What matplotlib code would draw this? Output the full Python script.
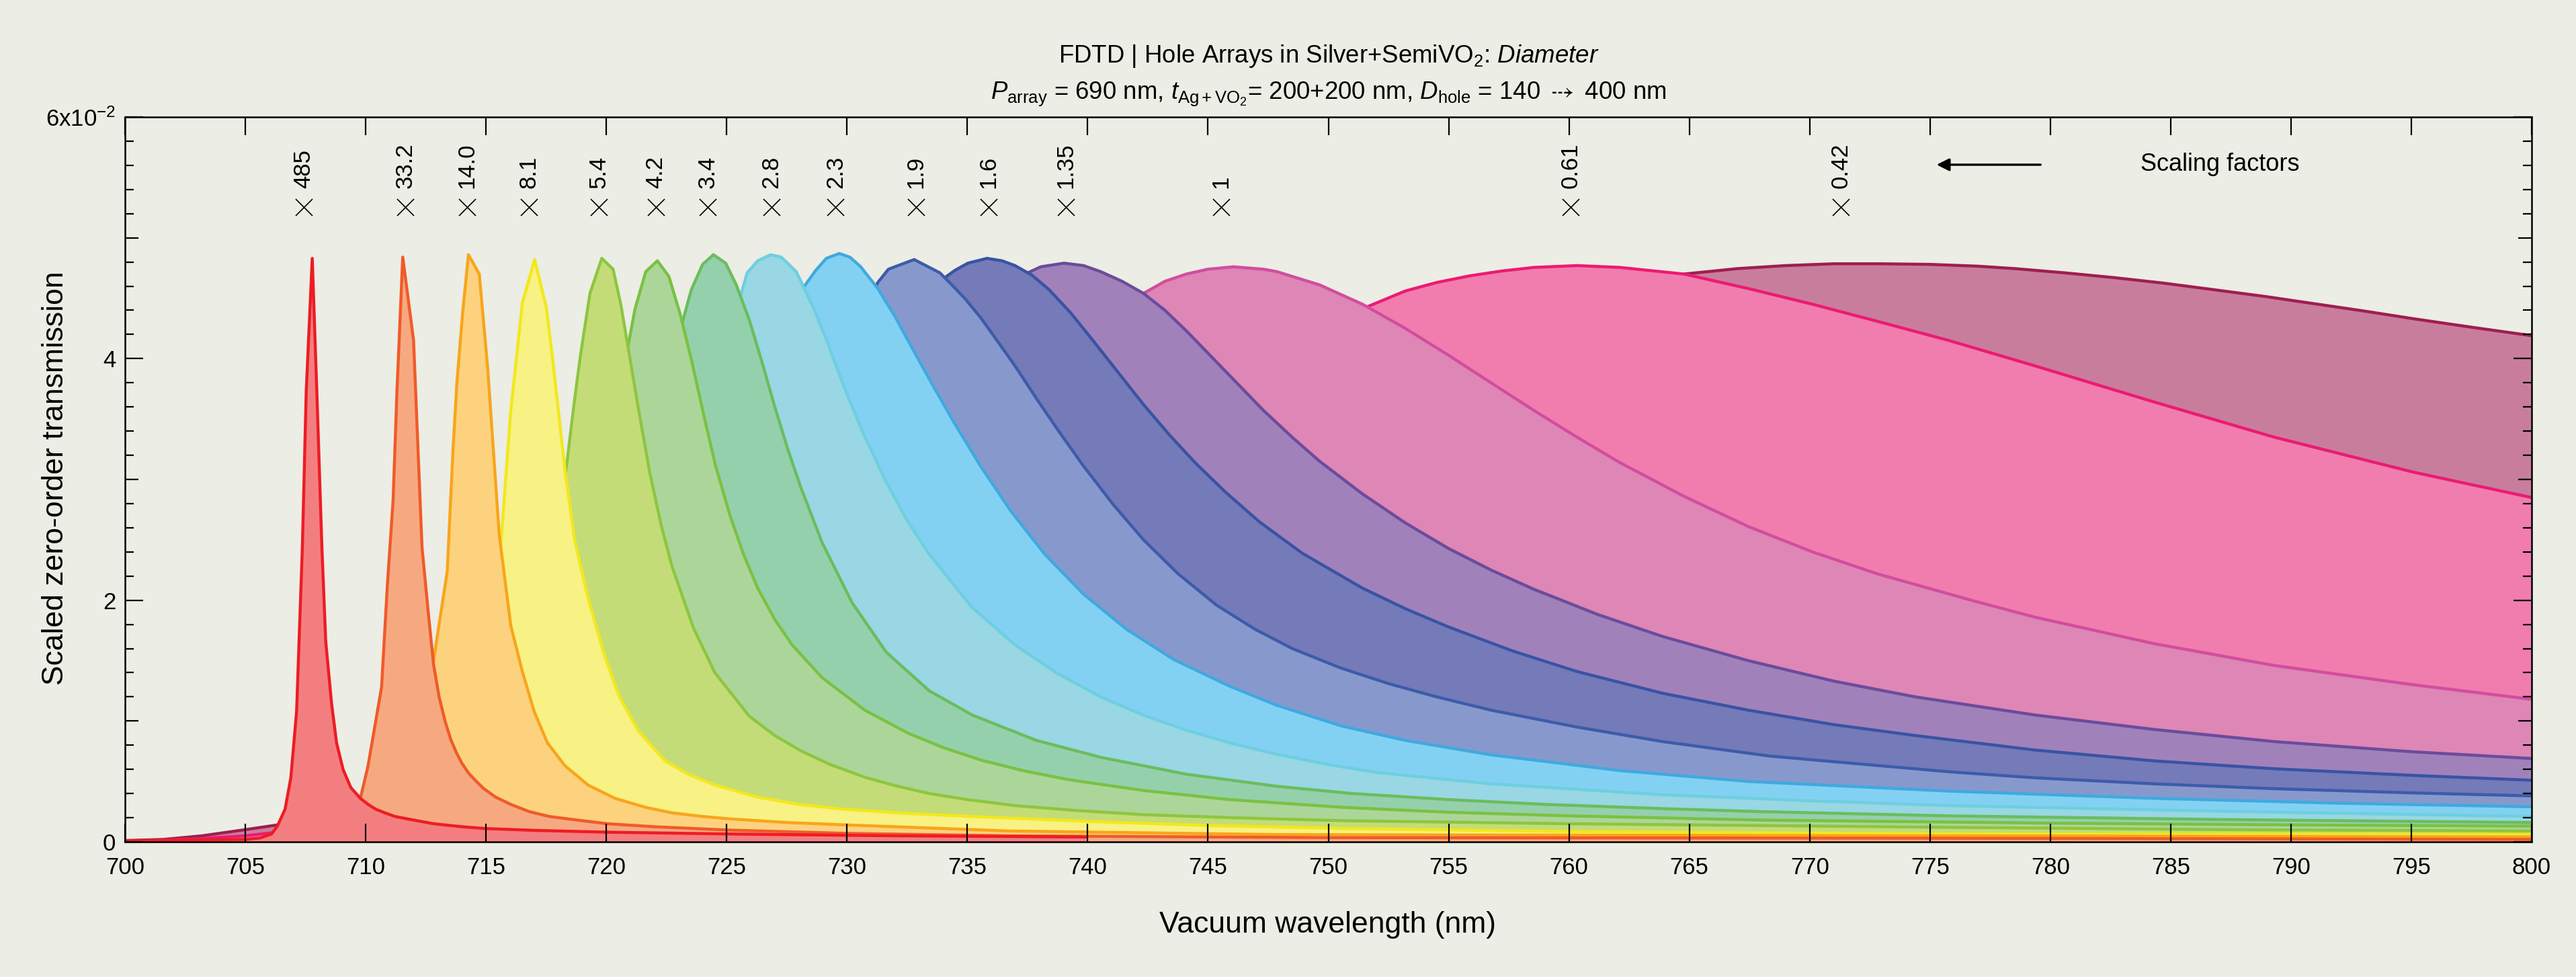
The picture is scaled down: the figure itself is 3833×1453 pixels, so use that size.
import matplotlib
matplotlib.use("Agg")
import matplotlib.pyplot as plt
from matplotlib.ticker import FixedLocator, FixedFormatter, MultipleLocator

plt.rcParams['font.family'] = ['Liberation Sans', 'DejaVu Sans']
plt.rcParams['mathtext.fontset'] = 'custom'
plt.rcParams['mathtext.rm'] = 'Liberation Sans'
plt.rcParams['mathtext.it'] = 'Liberation Sans:italic'
plt.rcParams['mathtext.bf'] = 'Liberation Sans:bold'
plt.rcParams['mathtext.fallback'] = 'stixsans'

BG = '#ECEDE4'

# ---------------------------------------------------------------------------
# Spectra: vacuum wavelength (nm) and scaled zero-order transmission (x1e-2),
# one pair per hole diameter (smallest hole first)
# ---------------------------------------------------------------------------
wl_01 = [700.0, 704.97, 705.61, 706.09, 706.33, 706.65, 706.89, 707.13, 707.37, 707.53,
         707.78, 707.97, 708.18, 708.34, 708.58, 708.79, 709.06, 709.38, 709.78, 710.1,
         710.42, 710.8, 711.22, 712.0, 712.82, 714.0, 714.99, 717.0, 720.04, 725.14,
         732.0, 739.9]
tr_01 = [0.01, 0.02, 0.032, 0.065, 0.13, 0.27, 0.53, 1.08, 2.44, 3.73,
         4.83, 3.73, 2.44, 1.66, 1.15, 0.82, 0.60, 0.45, 0.36, 0.31,
         0.27, 0.24, 0.21, 0.18, 0.15, 0.125, 0.11, 0.095, 0.08, 0.065,
         0.05, 0.04]

wl_02 = [700.0, 705.0, 707.0, 708.5, 709.3, 709.78, 710.10, 710.66, 710.90, 711.14,
         711.30, 711.54, 711.99, 712.34, 712.6, 712.82, 713.05, 713.31, 713.55, 713.79,
         714.0, 714.27, 714.6, 714.91, 715.4, 716.03, 716.8, 717.63, 718.8, 720.04,
         722.0, 725.14, 730.0, 736.7, 750.0, 775.0, 800.0]
tr_02 = [0.003, 0.012, 0.05, 0.16, 0.26, 0.36, 0.63, 1.28, 2.12, 2.83,
         3.73, 4.84, 4.15, 2.44, 1.90, 1.47, 1.20, 0.99, 0.84, 0.73,
         0.65, 0.57, 0.50, 0.44, 0.37, 0.31, 0.25, 0.21, 0.18, 0.15,
         0.125, 0.097, 0.07, 0.05, 0.035, 0.03, 0.02]

wl_03 = [700.0, 706.0, 709.0, 711.0, 712.0, 712.82, 713.39, 713.63, 713.79, 714.03,
         714.27, 714.72, 715.07, 715.55, 716.03, 716.51, 717.0, 717.55, 718.28, 719.24,
         720.36, 721.64, 722.73, 724.0, 725.14, 727.5, 730.0, 736.7, 747.9, 775.8,
         800.0]
tr_03 = [0.0, 0.02, 0.11, 0.35, 0.70, 1.50, 2.24, 3.25, 3.80, 4.38,
         4.86, 4.70, 3.92, 2.54, 1.79, 1.41, 1.08, 0.82, 0.63, 0.47,
         0.36, 0.285, 0.24, 0.21, 0.19, 0.16, 0.14, 0.09, 0.06, 0.05,
         0.04]

wl_04 = [700.0, 706.0, 708.0, 712.0, 714.5, 715.2, 715.63, 716.03, 716.51, 717.02,
         717.51, 717.79, 718.28, 718.68, 719.24, 719.88, 720.52, 721.32, 722.44, 723.4,
         724.51, 726.29, 728.0, 729.85, 732.5, 735.2, 740.54, 745.0, 750.65, 760.0,
         775.8, 800.0]
tr_04 = [0.0, 0.02, 0.04, 0.30, 0.95, 1.65, 2.50, 3.57, 4.46, 4.82,
         4.42, 3.96, 3.08, 2.50, 2.02, 1.57, 1.21, 0.92, 0.67, 0.56,
         0.47, 0.37, 0.31, 0.27, 0.235, 0.21, 0.165, 0.135, 0.11, 0.085,
         0.065, 0.06]

wl_05 = [700.0, 706.0, 710.0, 714.0, 716.0, 717.5, 718.35, 718.68, 718.92, 719.32,
         719.81, 720.28, 720.60, 721.0, 721.32, 721.80, 722.28, 722.73, 723.62, 724.51,
         725.94, 727.0, 728.07, 729.3, 730.74, 732.0, 733.42, 735.0, 736.98, 739.5,
         742.32, 746.0, 750.65, 760.0, 775.8, 788.0, 800.0]
tr_05 = [0.0, 0.02, 0.06, 0.35, 0.95, 2.0, 3.12, 3.66, 4.02, 4.54,
         4.83, 4.74, 4.45, 3.98, 3.60, 3.06, 2.62, 2.28, 1.77, 1.40,
         1.04, 0.88, 0.755, 0.64, 0.535, 0.465, 0.40, 0.35, 0.30, 0.26,
         0.225, 0.20, 0.175, 0.15, 0.12, 0.10, 0.09]

wl_06 = [700.0, 706.0, 710.0, 715.0, 718.0, 719.5, 720.3, 720.92, 721.19, 721.64,
         722.12, 722.6, 723.08, 723.56, 724.05, 724.53, 725.14, 725.7, 726.29, 727.0,
         727.72, 728.96, 730.74, 732.53, 734.0, 735.6, 737.3, 739.2, 742.32, 745.88,
         750.65, 755.0, 760.0, 768.0, 780.0, 790.0, 800.0]
tr_06 = [0.0, 0.02, 0.05, 0.30, 0.95, 1.9, 3.0, 4.12, 4.41, 4.72,
         4.81, 4.68, 4.36, 3.97, 3.53, 3.12, 2.70, 2.38, 2.10, 1.84,
         1.63, 1.36, 1.09, 0.90, 0.78, 0.675, 0.59, 0.515, 0.425, 0.35,
         0.285, 0.245, 0.215, 0.18, 0.155, 0.14, 0.13]

wl_07 = [700.0, 706.0, 710.0, 714.0, 717.0, 720.0, 722.0, 723.16, 723.53, 724.0,
         724.45, 724.96, 725.40, 725.94, 726.47, 727.0, 727.54, 728.07, 728.96, 730.21,
         731.63, 733.42, 735.2, 737.87, 740.54, 744.1, 747.86, 751.0, 754.98, 759.0,
         763.89, 768.0, 775.8, 787.0, 800.0]
tr_07 = [0.0, 0.02, 0.08, 0.25, 0.6, 1.6, 2.9, 4.30, 4.57, 4.78,
         4.86, 4.79, 4.61, 4.32, 3.97, 3.60, 3.25, 2.94, 2.48, 1.98,
         1.57, 1.25, 1.05, 0.84, 0.70, 0.56, 0.46, 0.40, 0.35, 0.31,
         0.275, 0.25, 0.215, 0.185, 0.16]

wl_08 = [700.0, 706.0, 710.0, 715.0, 719.0, 722.0, 724.0, 725.58, 725.85, 726.29,
         726.83, 727.27, 727.89, 728.61, 729.2, 729.85, 730.7, 731.63, 732.5, 733.42,
         735.2, 736.98, 738.7, 740.54, 742.3, 744.1, 746.0, 747.86, 750.0, 752.0,
         756.76, 763.89, 770.0, 775.8, 788.0, 800.0]
tr_08 = [0.0, 0.02, 0.08, 0.3, 0.9, 2.0, 3.3, 4.52, 4.71, 4.81,
         4.86, 4.84, 4.72, 4.42, 4.13, 3.78, 3.37, 2.98, 2.66, 2.38,
         1.94, 1.63, 1.40, 1.20, 1.05, 0.925, 0.815, 0.725, 0.64, 0.575,
         0.48, 0.39, 0.34, 0.30, 0.25, 0.21]

wl_09 = [700.0, 706.0, 710.0, 716.0, 721.0, 724.0, 726.5, 728.16, 728.7, 729.14,
         729.68, 730.12, 730.57, 731.28, 731.99, 732.7, 733.59, 734.48, 735.55, 736.8,
         738.22, 739.83, 741.61, 743.57, 745.88, 747.86, 750.53, 753.2, 756.76, 762.11,
         767.45, 775.79, 784.33, 792.0, 800.0]
tr_09 = [0.0, 0.02, 0.08, 0.4, 1.2, 2.2, 3.6, 4.58, 4.73, 4.83,
         4.87, 4.84, 4.76, 4.58, 4.35, 4.09, 3.77, 3.46, 3.11, 2.74,
         2.38, 2.05, 1.76, 1.51, 1.29, 1.13, 0.96, 0.84, 0.72, 0.59,
         0.50, 0.42, 0.36, 0.32, 0.29]

wl_10 = [700.0, 706.0, 710.0, 718.0, 724.0, 727.0, 729.5, 731.28, 731.72, 732.79,
         733.86, 734.31, 734.93, 735.55, 736.09, 736.98, 737.87, 738.76, 739.83, 741.07,
         742.32, 743.75, 745.35, 746.95, 748.5, 750.5, 752.5, 754.5, 756.76, 760.33,
         763.89, 768.34, 775.79, 779.36, 784.33, 789.3, 795.09, 800.0]
tr_10 = [0.0, 0.02, 0.08, 0.5, 1.6, 2.7, 3.9, 4.63, 4.74, 4.82,
         4.71, 4.62, 4.49, 4.34, 4.19, 3.94, 3.67, 3.41, 3.11, 2.79,
         2.50, 2.22, 1.96, 1.76, 1.60, 1.44, 1.31, 1.20, 1.09, 0.95,
         0.83, 0.71, 0.58, 0.53, 0.48, 0.44, 0.405, 0.38]

wl_11 = [700.0, 706.0, 710.0, 720.0, 726.0, 730.0, 732.5, 734.13, 734.48, 735.02,
         735.82, 736.44, 736.98, 737.69, 738.4, 739.29, 740.18, 741.25, 742.32, 743.39,
         744.46, 745.7, 747.13, 748.91, 751.42, 753.2, 754.98, 757.66, 760.33, 763.89,
         767.45, 771.01, 774.39, 779.36, 784.33, 789.3, 795.09, 800.0]
tr_11 = [0.0, 0.02, 0.08, 0.6, 1.8, 3.0, 4.0, 4.68, 4.73, 4.79,
         4.83, 4.81, 4.77, 4.69, 4.57, 4.38, 4.16, 3.89, 3.62, 3.37,
         3.14, 2.90, 2.65, 2.39, 2.10, 1.93, 1.78, 1.58, 1.41, 1.23,
         1.09, 0.97, 0.88, 0.76, 0.67, 0.605, 0.55, 0.51]

wl_12 = [700.0, 706.0, 710.0, 720.0, 728.0, 732.0, 735.0, 737.51, 738.05, 739.02,
         739.83, 740.54, 741.43, 742.32, 743.21, 744.1, 745.17, 746.24, 747.31, 748.55,
         749.64, 751.42, 753.2, 754.98, 756.76, 758.55, 761.22, 763.89, 767.45, 771.01,
         774.39, 779.36, 784.33, 789.3, 795.09, 800.0]
tr_12 = [0.0, 0.02, 0.08, 0.6, 2.0, 3.0, 4.0, 4.71, 4.76, 4.79,
         4.77, 4.72, 4.64, 4.54, 4.40, 4.23, 4.01, 3.79, 3.57, 3.34,
         3.15, 2.88, 2.64, 2.43, 2.25, 2.09, 1.88, 1.70, 1.50, 1.33,
         1.20, 1.05, 0.93, 0.83, 0.745, 0.69]

wl_13 = [700.0, 706.0, 710.0, 720.0, 730.0, 735.0, 738.0, 740.0, 742.32, 743.21,
         744.1, 744.99, 746.06, 747.31, 747.86, 749.64, 751.42, 753.2, 754.98, 756.76,
         758.55, 760.33, 762.11, 764.78, 767.45, 770.12, 772.79, 774.39, 776.9, 779.36,
         784.33, 789.3, 795.09, 800.0]
tr_13 = [0.0, 0.02, 0.15, 0.8, 2.0, 2.8, 3.5, 4.0, 4.54, 4.64,
         4.70, 4.74, 4.76, 4.74, 4.72, 4.61, 4.45, 4.25, 4.03, 3.80,
         3.57, 3.35, 3.14, 2.86, 2.61, 2.40, 2.22, 2.13, 1.99, 1.86,
         1.64, 1.46, 1.30, 1.18]

wl_14 = [700.0, 703.0, 705.0, 706.33, 710.0, 715.0, 720.0, 730.0, 740.0, 745.0,
         748.0, 749.64, 751.51, 753.2, 754.5, 755.87, 757.2, 758.55, 760.33, 762.11,
         764.78, 767.45, 770.12, 772.79, 775.79, 779.36, 784.33, 789.3, 795.09, 800.0]
tr_14 = [0.005, 0.025, 0.05, 0.08, 0.25, 0.6, 1.1, 2.2, 3.4, 3.9,
         4.15, 4.28, 4.42, 4.56, 4.63, 4.685, 4.725, 4.755, 4.77, 4.755,
         4.70, 4.58, 4.45, 4.31, 4.15, 3.94, 3.64, 3.35, 3.06, 2.85]

wl_15 = [700.0, 701.6, 703.2, 704.97, 706.33, 708.0, 710.0, 712.0, 715.0, 720.0,
         725.0, 730.0, 740.0, 750.0, 760.0, 764.78, 767.0, 769.0, 771.0, 773.0,
         775.0, 777.0, 778.53, 780.6, 782.67, 784.7, 786.81, 788.9, 790.95, 793.0,
         795.09, 797.5, 800.0]
tr_15 = [0.01, 0.02, 0.05, 0.10, 0.14, 0.22, 0.30, 0.45, 0.7, 1.2,
         1.8, 2.5, 3.5, 4.2, 4.62, 4.70, 4.745, 4.77, 4.785, 4.785,
         4.78, 4.765, 4.745, 4.71, 4.67, 4.625, 4.57, 4.515, 4.455, 4.395,
         4.33, 4.26, 4.19]

# scaling factor applied to each spectrum and where its marker sits
scale_labels = ['485', '33.2', '14.0', '8.1', '5.4', '4.2', '3.4', '2.8', '2.3',
                '1.9', '1.6', '1.35', '1', '0.61', '0.42']
scale_wl = [707.43, 711.65, 714.21, 716.78, 719.69, 722.06, 724.21, 726.86, 729.53,
            732.87, 735.88, 739.09, 745.55, 760.07, 771.29]

spectra = [(wl_01, tr_01), (wl_02, tr_02), (wl_03, tr_03), (wl_04, tr_04), (wl_05, tr_05),
           (wl_06, tr_06), (wl_07, tr_07), (wl_08, tr_08), (wl_09, tr_09), (wl_10, tr_10),
           (wl_11, tr_11), (wl_12, tr_12), (wl_13, tr_13), (wl_14, tr_14), (wl_15, tr_15)]

line_colors = ['#ED1C24', '#F15A29', '#F8A51B', '#F2E81C', '#8DC63F', '#7AC143',
               '#6ABD5E', '#6DCFE0', '#3FA9DF', '#3C5CAA', '#3953A4', '#6A4C9C',
               '#D24D9E', '#EC1A72', '#9E1F4F']
fill_colors = ['#F37E80', '#F6A981', '#FDD27F', '#F8F183', '#C4DC78', '#ACD699',
               '#95D0AC', '#98D7E3', '#83D1F2', '#8799CC', '#757AB8', '#A181BA',
               '#DE86B6', '#F07DAE', '#C97D9C']

fig = plt.figure(figsize=(3833 / 200, 1453 / 200), dpi=200, facecolor=BG)
ax = fig.add_axes([0.04853, 0.13834, 0.93425, 0.74191], facecolor=BG)
ax.set_axisbelow(False)

# largest hole at the back, smallest hole on top; every fill hides the lines behind it
n = len(spectra)
for k in reversed(range(n)):
    wl, tr = spectra[k]
    z = 1.0 + (n - 1 - k) * 0.09
    ax.fill_between(wl, tr, 0, color=fill_colors[k], lw=0, zorder=z)
    ax.plot(wl, tr, color=line_colors[k], lw=1.6, solid_joinstyle='round', zorder=z + 0.04)

# scaling-factor markers and labels
ax.plot(scale_wl, [5.254] * len(scale_wl), ls='none', marker='x', ms=9, mew=0.6,
        color='k', zorder=3)
for w, lab in zip(scale_wl, scale_labels):
    ax.text(w, 5.41, lab, rotation=90, ha='center', va='bottom', fontsize=12.5)
ax.annotate('', xy=(775.12, 5.605), xytext=(779.75, 5.605),
            arrowprops=dict(arrowstyle='-|>', color='k', lw=1.2, mutation_scale=14))
ax.text(783.75, 5.605, 'Scaling factors', ha='left', va='center', fontsize=13)

ax.set_xlim(700, 800)
ax.set_ylim(0, 6)
ax.xaxis.set_major_locator(MultipleLocator(5))
ax.yaxis.set_major_locator(FixedLocator([0, 1, 2, 3, 4, 5, 6]))
ax.yaxis.set_major_formatter(FixedFormatter(['0', '', '2', '', '4', '', r'6x10$^{-2}$']))
ax.yaxis.set_minor_locator(MultipleLocator(0.2))

ax.tick_params(which='major', direction='in', length=9.7, width=0.8,
               top=True, right=True, labelsize=12.5)
ax.tick_params(which='minor', direction='in', length=4.7, width=0.8, right=True)
ax.tick_params(axis='x', pad=8)
ax.tick_params(axis='y', pad=5)
for tick, loc in zip(ax.yaxis.get_major_ticks(), [0, 1, 2, 3, 4, 5, 6]):
    if loc % 2:
        tick.tick1line.set_markersize(7.2)
        tick.tick2line.set_markersize(7.2)
for sp in ax.spines.values():
    sp.set_linewidth(0.9)

fig.text(0.5158, 0.936, r'FDTD | Hole Arrays in Silver+SemiVO$_2$: $\mathit{Diameter}$',
         ha='center', va='baseline', fontsize=13.2)
fig.text(0.5158, 0.8988,
         r'$P_{\mathrm{array}}$ = 690 nm, $t_{\mathrm{Ag+VO_2}}$= 200+200 nm, '
         r'$D_{\mathrm{hole}}$ = 140 $\dashrightarrow$ 400 nm',
         ha='center', va='baseline', fontsize=13.2)
fig.text(0.5153, 0.0530, 'Vacuum wavelength (nm)', ha='center', va='center', fontsize=16)
fig.text(0.02165, 0.5107, 'Scaled zero-order transmission', rotation=90,
         ha='center', va='center', fontsize=16)

fig.savefig('out.png', dpi=200, facecolor=BG)
